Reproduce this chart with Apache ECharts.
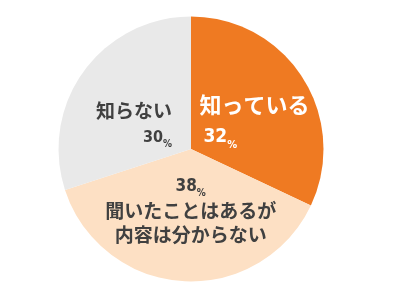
<!DOCTYPE html>
<html><head><meta charset="utf-8">
<script src="https://cdn.jsdelivr.net/npm/echarts@6/dist/echarts.min.js"></script>
<style>html,body{margin:0;padding:0;background:#fff}#c{width:395px;height:300px}</style>
</head><body><div id="c"></div>
<script>
const categories = ['知っている', '聞いたことはあるが\n内容は分からない', '知らない'];
const values = [32, 38, 30];
const colors = ['#EF7A22', '#FDE0C4', '#E9E9E9'];

const JP = '"Noto Sans CJK JP", "Noto Sans", sans-serif';
const NUM = '"Liberation Sans Narrow", "DejaVu Sans Condensed", "Roboto", sans-serif';

// numAlign: where the percentage sits relative to the name block; lead: offset from that side
const labelSpecs = [
  { fc: '#ffffff', nameSize: 22, numSize: 19, unitSize: 11, order: 'nameFirst', numAlign: 'left', lead: 4, gap: 5, dx: 5, dy: 9 },
  { fc: '#404040', nameSize: 19, numSize: 17, unitSize: 10, order: 'numFirst', numAlign: 'center', lead: 0, gap: 0, dx: 4, dy: -8 },
  { fc: '#404040', nameSize: 19, numSize: 16, unitSize: 10, order: 'nameFirst', numAlign: 'right', lead: 0, gap: 3, dx: -1, dy: 16 }
];

const ctx = document.createElement('canvas').getContext('2d');
function tw(text, size, fam) { ctx.font = 'bold ' + size + 'px ' + fam; return ctx.measureText(text).width; }

const data = categories.map((name, i) => {
  const s = labelSpecs[i];
  const nameLines = name.split('\n');
  const W = Math.max.apply(null, nameLines.map(l => tw(l, s.nameSize, JP)));
  const numW = tw(String(values[i]), s.numSize, NUM) + tw('%', s.unitSize, NUM);
  let padL = 0, padR = 0;
  if (s.numAlign === 'left') { padL = s.lead; padR = Math.max(0, W - numW - s.lead); }
  else if (s.numAlign === 'right') { padR = s.lead; padL = Math.max(0, W - numW - s.lead); }
  const lines = nameLines.map(l => '{n|' + l + '}');
  const num = '{p|' + values[i] + '}{u|%}';
  const gap = s.gap > 0 ? '{g| }\n' : '';
  const text = s.order === 'numFirst'
    ? num + '\n' + lines.join('\n')
    : lines.join('\n') + '\n' + gap + num;
  const numLH = s.numSize + 8;
  return {
    name: name,
    value: values[i],
    itemStyle: { color: colors[i] },
    label: {
      show: true,
      position: 'inner',
      formatter: text,
      rich: {
        n: { fontFamily: JP, fontWeight: 'bold', fontSize: s.nameSize, color: s.fc, lineHeight: s.nameSize + 5 },
        g: { fontSize: 1, lineHeight: s.gap },
        p: { fontFamily: NUM, fontWeight: 'bold', fontSize: s.numSize, color: s.fc, lineHeight: numLH, padding: [0, 0, 0, padL] },
        u: { fontFamily: NUM, fontWeight: 'bold', fontSize: s.unitSize, color: s.fc, verticalAlign: 'bottom', lineHeight: numLH, padding: [0, padR, 0, 0] }
      }
    }
  };
});

const chart = echarts.init(document.getElementById('c'), null, { renderer: 'canvas' });
chart.setOption({
  animation: false,
  series: [{
    type: 'pie',
    center: [191, 149],
    radius: [0, 132.5],
    startAngle: 90,
    clockwise: true,
    label: { show: true, position: 'inner' },
    labelLine: { show: false },
    labelLayout: function (params) {
      const s = labelSpecs[params.dataIndex];
      return { dx: s.dx, dy: s.dy };
    },
    emphasis: { disabled: true },
    data: data
  }]
});
</script></body></html>
